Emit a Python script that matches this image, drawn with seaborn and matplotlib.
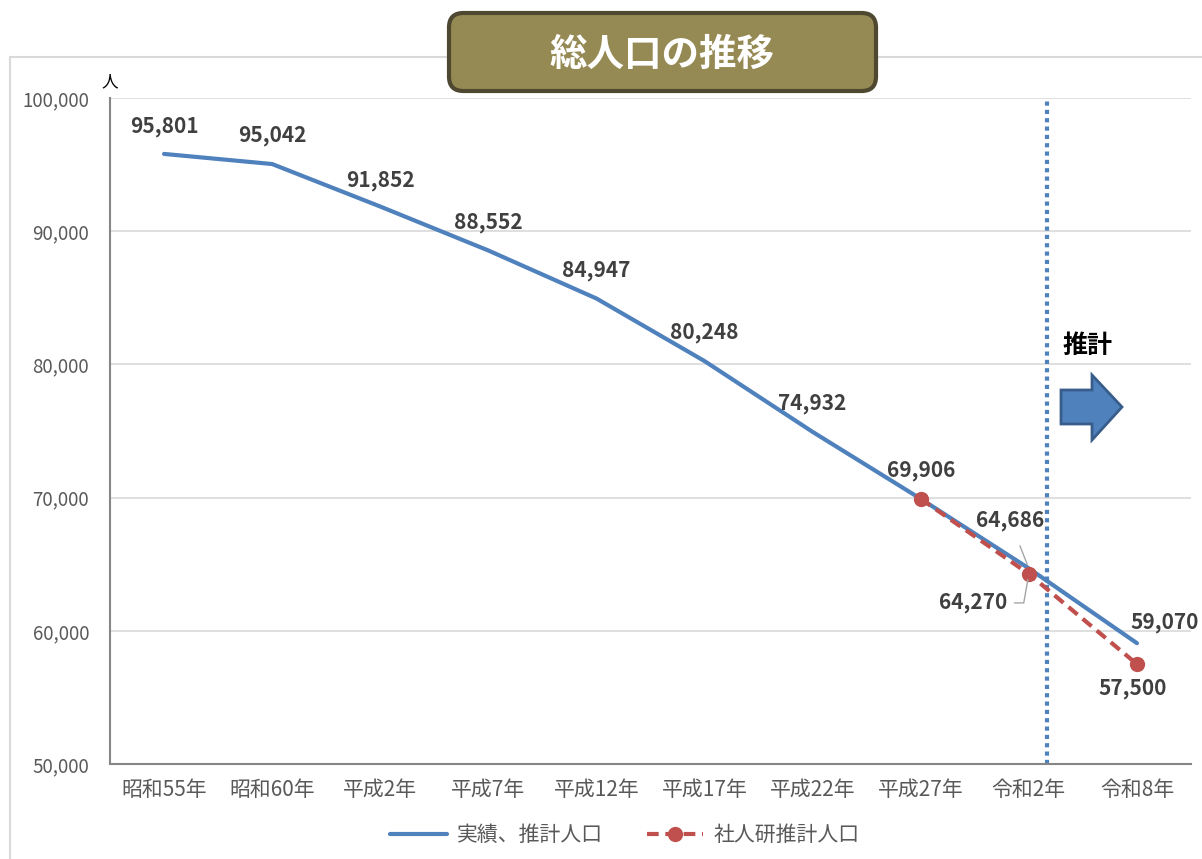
import matplotlib
matplotlib.use("Agg")
import matplotlib.pyplot as plt
import matplotlib.patches as mpatches
from matplotlib.lines import Line2D
from matplotlib.ticker import FuncFormatter
import seaborn as sns
import pandas as pd

# ---- data ----
categories = ["昭和55年", "昭和60年", "平成2年", "平成7年", "平成12年",
              "平成17年", "平成22年", "平成27年", "令和2年", "令和8年"]
actual_values = [95801, 95042, 91852, 88552, 84947, 80248, 74932, 69906, 64686, 59070]
ipss_index = [7, 8, 9]
ipss_values = [69906, 64270, 57500]
y_ticks = [50000, 60000, 70000, 80000, 90000, 100000]
title_text = "総人口の推移"
unit_text = "人"
estimate_text = "推計"
legend_labels = ["実績、推計人口", "社人研推計人口"]

sns.set_style("white")
plt.rcParams['font.family'] = ['Noto Sans CJK JP', 'DejaVu Sans']

W, H = 1202, 859
fig = plt.figure(figsize=(W / 100, H / 100), dpi=100)

def fx(x):
    return x / W

def fy(y):
    return 1 - y / H

# outer frame
fig.patches.append(mpatches.Rectangle((fx(10), -0.01), 1.0, fy(57) + 0.01,
                                      transform=fig.transFigure, fill=False,
                                      edgecolor="#D9D9D9", linewidth=1.5, zorder=0))

ax = fig.add_axes([fx(110), fy(764), fx(1191) - fx(110), fy(98) - fy(764)])

blue = "#4F81BD"
red = "#C0504D"

df_actual = pd.DataFrame({"x": list(range(len(categories))), "y": actual_values})
df_ipss = pd.DataFrame({"x": ipss_index, "y": ipss_values})

sns.lineplot(data=df_actual, x="x", y="y", ax=ax, color=blue, linewidth=3,
             zorder=3, legend=False)
sns.lineplot(data=df_ipss, x="x", y="y", ax=ax, color=red, linewidth=3,
             dashes=False, zorder=4, legend=False, marker="o", markersize=11,
             markeredgewidth=0)
ax.lines[-1].set_dashes((2.8, 1.6))

ax.set_xlim(-0.5, len(categories) - 0.5)
ax.set_ylim(50000, 100000)
ax.set_xticks(range(len(categories)))
ax.set_xticklabels(categories, fontsize=15, color="#595959")
ax.set_yticks(y_ticks)
ax.yaxis.set_major_formatter(FuncFormatter(lambda v, p: f"{int(v):,}"))
ax.tick_params(axis="y", labelsize=13.5, colors="#595959", pad=15, length=0)
ax.tick_params(axis="x", pad=11, length=0)
ax.set_xlabel("")
ax.set_ylabel("")
ax.grid(axis="y", color="#D9D9D9", linewidth=1.2)
ax.set_axisbelow(True)
for s in ["top", "right"]:
    ax.spines[s].set_visible(False)
for s in ["left", "bottom"]:
    ax.spines[s].set_color("#868686")
    ax.spines[s].set_linewidth(1.5)

# vertical dotted divider
ax.axvline(8.17, color=blue, linewidth=3, linestyle=(0, (1, 1)), zorder=2)

# data labels (offsets in pixels -> points)
lab_kw = dict(fontsize=15, fontweight="bold", color="#404040",
              ha="center", va="center", textcoords="offset points", zorder=6)
actual_offsets = [(0, 27), (0, 29), (0, 26), (0, 28), (0, 28), (0, 29),
                  (0, 28), (0, 28), (-19, 48), (28, 21)]
for i, (v, off) in enumerate(zip(actual_values, actual_offsets)):
    if i == 8:
        ax.annotate(f"{v:,}", (i, v), xytext=(off[0] * 0.72, off[1] * 0.72),
                    arrowprops=dict(arrowstyle="-", color="#A6A6A6", lw=1,
                                    shrinkA=9, shrinkB=3), **lab_kw)
    else:
        ax.annotate(f"{v:,}", (i, v), xytext=(off[0] * 0.72, off[1] * 0.72), **lab_kw)

ipss_offsets = {8: (-56, -29), 9: (-4, -24)}
for i, v in zip(ipss_index, ipss_values):
    if i not in ipss_offsets:
        continue
    off = ipss_offsets[i]
    if i == 8:
        ax.annotate(f"{v:,}", (i, v), xytext=(off[0] * 0.72, off[1] * 0.72),
                    arrowprops=dict(arrowstyle="-", color="#A6A6A6", lw=1,
                                    shrinkA=3, shrinkB=4,
                                    connectionstyle="angle,angleA=0,angleB=80,rad=0",
                                    relpos=(1.0, 0.5)), **lab_kw)
    else:
        ax.annotate(f"{v:,}", (i, v), xytext=(off[0] * 0.72, off[1] * 0.72), **lab_kw)

# unit label
fig.text(fx(110), fy(82), unit_text, fontsize=12, color="#000000", ha="center", va="center")

# title box
asp = W / H
box = mpatches.FancyBboxPatch((fx(449), fy(91)), fx(876) - fx(449), fy(13) - fy(91),
                              boxstyle="round,pad=0,rounding_size=0.012",
                              mutation_aspect=asp, transform=fig.transFigure,
                              facecolor="#968A54", edgecolor="#4F4830", linewidth=3, zorder=10)
fig.patches.append(box)
fig.text(fx(662), fy(54), title_text, fontsize=27, fontweight="bold", color="white",
         ha="center", va="center", zorder=11)

# estimate marker text and arrow
fig.text(fx(1087), fy(346), estimate_text, fontsize=18, fontweight="bold", color="black",
         ha="center", va="center")
arrow_px = [(1061, 390), (1092, 390), (1092, 375), (1122, 407), (1092, 440),
            (1092, 424), (1061, 424)]
arrow = mpatches.Polygon([(fx(x), fy(y)) for x, y in arrow_px], closed=True,
                         transform=fig.transFigure, facecolor=blue,
                         edgecolor="#385D8A", linewidth=2, zorder=10)
fig.patches.append(arrow)

# legend
h1 = Line2D([], [], color=blue, linewidth=3)
h2 = Line2D([], [], color=red, linewidth=3, dashes=(2.8, 1.6), marker="o",
            markersize=11, markeredgewidth=0)
fig.legend([h1, h2], legend_labels, loc="center", bbox_to_anchor=(fx(625), fy(835)),
           ncol=2, frameon=False, fontsize=15, handlelength=2.7, columnspacing=2.1,
           handletextpad=0.5, labelcolor="#595959")

fig.savefig("out.png", dpi=100)
